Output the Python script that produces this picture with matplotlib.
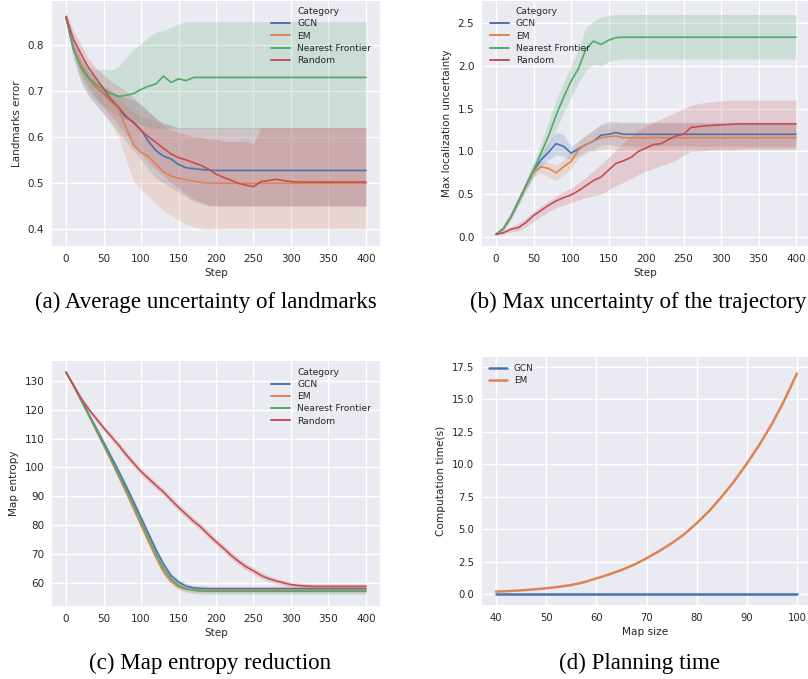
import matplotlib
matplotlib.use("Agg")
import matplotlib.pyplot as plt
from matplotlib.lines import Line2D
import numpy as np
import seaborn as sns

# ---------------- data ----------------
steps = list(range(0, 401, 10))
categories = ["GCN", "EM", "Nearest Frontier", "Random"]

# (a) Landmarks error
A_GCN = [0.86,0.79,0.755,0.728,0.708,0.694,0.678,0.66,0.643,0.632,0.615,0.59,0.57,0.558,0.552,0.54,0.533,0.531,0.529,0.528] + [0.527]*21
A_EM = [0.86,0.79,0.755,0.728,0.708,0.692,0.675,0.66,0.62,0.582,0.566,0.558,0.54,0.524,0.515,0.51,0.507,0.504,0.501,0.50] + [0.499]*21
A_NF = [0.86,0.79,0.75,0.728,0.714,0.703,0.694,0.688,0.69,0.694,0.703,0.71,0.715,0.732,0.718,0.726,0.722,0.729] + [0.729]*23
A_RND = [0.86,0.812,0.78,0.75,0.727,0.705,0.682,0.665,0.645,0.63,0.614,0.6,0.588,0.575,0.563,0.555,0.55,0.544,0.538,0.53,
         0.519,0.512,0.506,0.499,0.495,0.492,0.503,0.505,0.508,0.505,0.503] + [0.502]*10
A_GCN_lo = [0.85,0.77,0.72,0.69,0.67,0.65,0.63,0.61,0.59,0.57,0.55,0.53,0.51,0.50,0.49,0.48,0.47,0.46,0.455,0.45] + [0.45]*21
A_GCN_hi = [0.87,0.81,0.77,0.74,0.72,0.71,0.70,0.69,0.685,0.68,0.67,0.655,0.64,0.63,0.625,0.62] + [0.62]*25
A_EM_lo = [0.85,0.77,0.72,0.69,0.67,0.65,0.63,0.60,0.55,0.505,0.485,0.47,0.455,0.44,0.43,0.42,0.412,0.405,0.40,0.398] + [0.40]*21
A_EM_hi = [0.87,0.81,0.77,0.745,0.725,0.71,0.70,0.69,0.67,0.655,0.645,0.64,0.635,0.63,0.625,0.62] + [0.62]*25
A_NF_lo = [0.85,0.78,0.73,0.70,0.68,0.665,0.655,0.645,0.638,0.632,0.627,0.622,0.618] + [0.618]*28
A_NF_hi = [0.87,0.80,0.77,0.755,0.745,0.748,0.745,0.752,0.773,0.791,0.802,0.817,0.827,0.831,0.838,0.845] + [0.85]*25
A_RND_lo = [0.85,0.79,0.74,0.71,0.685,0.665,0.645,0.625,0.605,0.585,0.565,0.545,0.53,0.515,0.50,0.49,0.475,0.465,0.458,0.452] + [0.45]*21
A_RND_hi = [0.87,0.83,0.80,0.77,0.75,0.735,0.72,0.71,0.70,0.685,0.67,0.655,0.64,0.625,0.615,0.61,0.605,0.60,0.60,0.595,
            0.595,0.59,0.59,0.59,0.59,0.585] + [0.62]*15

# (b) Max localization uncertainty
B_GCN = [0.03,0.1,0.24,0.42,0.6,0.78,0.9,0.99,1.09,1.06,0.98,1.03,1.08,1.12,1.19,1.2,1.22,1.2] + [1.2]*23
B_EM = [0.03,0.1,0.24,0.42,0.6,0.76,0.82,0.8,0.75,0.82,0.88,1.02,1.08,1.12,1.16,1.17,1.18] + [1.16]*24
B_NF = [0.03,0.1,0.24,0.42,0.6,0.78,0.98,1.18,1.42,1.63,1.82,1.97,2.2,2.29,2.25,2.3,2.33] + [2.335]*24
B_RND = [0.03,0.05,0.09,0.11,0.17,0.25,0.31,0.37,0.42,0.46,0.49,0.54,0.6,0.66,0.7,0.78,0.86,0.89,0.93,1.0,
         1.04,1.08,1.09,1.14,1.18,1.2,1.28,1.29,1.3,1.305,1.31,1.315,1.32] + [1.322]*8
B_GCN_lo = [0.02,0.08,0.21,0.38,0.55,0.72,0.82,0.9,0.96,0.94,0.9,0.95,1.0,1.02,1.07,1.08] + [1.06]*25
B_GCN_hi = [0.04,0.12,0.27,0.46,0.65,0.84,0.98,1.1,1.22,1.2,1.06,1.12,1.18,1.25,1.32,1.35,1.35] + [1.34]*24
B_EM_lo = [0.02,0.08,0.21,0.38,0.55,0.7,0.75,0.7,0.66,0.72,0.8,0.92,0.98,1.0,1.02,1.03] + [1.02]*25
B_EM_hi = [0.04,0.12,0.27,0.46,0.65,0.8,0.88,0.87,0.84,0.9,0.98,1.12,1.2,1.25,1.3,1.32] + [1.33]*25
B_NF_lo = [0.02,0.08,0.21,0.38,0.55,0.7,0.88,1.05,1.25,1.45,1.63,1.8,1.95,2.02,2.0,2.05,2.07] + [2.08]*24
B_NF_hi = [0.04,0.12,0.27,0.46,0.66,0.87,1.1,1.35,1.6,1.8,2.0,2.2,2.45,2.52,2.57,2.59] + [2.6]*25
B_RND_lo = [0.02,0.03,0.06,0.07,0.12,0.18,0.24,0.3,0.34,0.37,0.4,0.43,0.46,0.48,0.5,0.55,0.6,0.64,0.68,0.73,
            0.77,0.8,0.83,0.86,0.9,0.95,1.0,1.0,1.01,1.02,1.02,1.02,1.02] + [1.03]*8
B_RND_hi = [0.04,0.07,0.12,0.16,0.22,0.3,0.36,0.42,0.48,0.53,0.57,0.63,0.7,0.77,0.85,0.93,1.02,1.1,1.18,1.25,
            1.3,1.34,1.38,1.42,1.46,1.5,1.54,1.56,1.57,1.58,1.59] + [1.6]*10

# (c) Map entropy
C_GCN = [133,128.5,123.6,118.7,113.8,108.8,103.8,98.8,93.6,88.2,82.6,77.0,71.5,66.5,62.5,60.3,58.9,58.3,58.1] + [58.0]*22
C_EM = [133,128.3,123.2,118.1,112.9,107.7,102.4,97.0,91.5,85.8,80.0,74.3,68.8,63.8,60.5,58.6,57.8,57.6] + [57.5]*23
C_NF = [133,128.4,123.4,118.4,113.3,108.2,103.0,97.8,92.5,86.9,81.2,75.6,70.0,65.0,61.3,59.2,58.0,57.4,57.2] + [57.1]*22
C_RND = [133,128.5,124.0,120.3,117.0,113.8,110.8,107.8,104.5,101.5,98.6,96.2,93.8,91.5,88.8,86.2,83.8,81.4,79.3,76.7,
         74.3,72.0,69.6,67.5,65.6,64.2,62.6,61.5,60.7,60.0,59.4,59.1,58.9] + [58.8]*8
C_HW_GCN = [0.3,0.4,0.5,0.6,0.7,0.8,0.9,1.0,1.0,1.0,1.0,1.0,1.0,1.0,1.0,1.0,0.9] + [0.9]*24
C_HW_EM = [0.3,0.4,0.5,0.6,0.7,0.8,0.9,1.0,1.0,1.0,1.0,1.0,1.0,1.0,1.0,1.0,0.9] + [0.9]*24
C_HW_NF = [0.3,0.4,0.5,0.6,0.7,0.8,0.9,1.0,1.0,1.0,1.0,1.0,1.0,1.0,1.0,1.1,1.1] + [1.1]*24
C_HW_RND = [0.3,0.6,0.8,0.9,1.0,1.0,1.1,1.1,1.2,1.2,1.2,1.2,1.2,1.2,1.2,1.2,1.2,1.2,1.2,1.2,
            1.2,1.2,1.2,1.2,1.2,1.2,1.1,1.0,1.0,0.9,0.9,0.9,0.9] + [0.9]*8

# (d) Planning time
map_size = [40,42.5,45,47.5,50,52.5,55,57.5,60,62.5,65,67.5,70,72.5,75,77.5,80,82.5,85,87.5,90,92.5,95,97.5,100]
D_GCN = [0.02]*25
D_EM = [0.18,0.22,0.28,0.35,0.44,0.55,0.69,0.9,1.2,1.5,1.85,2.25,2.75,3.3,3.9,4.6,5.45,6.4,7.5,8.7,10.05,11.5,13.1,14.95,17.0]

# ---------------- style ----------------
sns.set_style("darkgrid")
plt.rcParams["font.family"] = ["DejaVu Sans"]
plt.rcParams["text.color"] = ".15"
plt.rcParams["axes.labelcolor"] = ".15"
plt.rcParams["xtick.color"] = ".15"
plt.rcParams["ytick.color"] = ".15"
plt.rcParams["grid.linewidth"] = 1.0

pal = sns.color_palette("deep")
colors = [pal[0], pal[1], pal[2], pal[3]]

W, H = 808, 679
fig = plt.figure(figsize=(W / 100, H / 100), dpi=100)

def add_ax(l, r, t, b):
    return fig.add_axes([l / W, 1 - b / H, (r - l) / W, (b - t) / H])

axA = add_ax(52, 380, 1, 246)
axB = add_ax(482, 808, 1, 246)
axC = add_ax(52, 380, 361, 606)
axD = add_ax(482, 808, 357, 605)

TICK = 7.5
LAB = 7.5

def style(ax, tick=TICK):
    ax.tick_params(labelsize=tick, length=0, pad=5.5)
    for s in ax.spines.values():
        s.set_visible(False)

def cat_legend(ax, x, y, fs=6.6):
    hs = [Line2D([], [], color="none")] + [Line2D([], [], color=c, lw=1.4) for c in colors]
    ls = ["Category"] + categories
    ax.legend(hs, ls, loc="upper left", bbox_to_anchor=(x, y), frameon=False,
              fontsize=fs, borderpad=0, borderaxespad=0, handlelength=2.07,
              handletextpad=0.76, labelspacing=0.35)

# (a)
for m, lo, hi, c in zip([A_GCN, A_EM, A_NF, A_RND],
                        [A_GCN_lo, A_EM_lo, A_NF_lo, A_RND_lo],
                        [A_GCN_hi, A_EM_hi, A_NF_hi, A_RND_hi], colors):
    axA.fill_between(steps, lo, hi, color=c, alpha=0.2, lw=0)
    axA.plot(steps, m, color=c, lw=1.2)
axA.set_xlim(-18.7, 418.7)
axA.set_ylim(0.363, 0.895)
axA.set_xticks(range(0, 401, 50))
axA.set_yticks([0.4, 0.5, 0.6, 0.7, 0.8])
axA.set_xlabel("Step", fontsize=LAB, labelpad=3)
axA.set_ylabel("Landmarks error", fontsize=LAB)
style(axA)
cat_legend(axA, 0.668, 0.975)

# (b)
for m, lo, hi, c in zip([B_GCN, B_EM, B_NF, B_RND],
                        [B_GCN_lo, B_EM_lo, B_NF_lo, B_RND_lo],
                        [B_GCN_hi, B_EM_hi, B_NF_hi, B_RND_hi], colors):
    axB.fill_between(steps, lo, hi, color=c, alpha=0.2, lw=0)
    axB.plot(steps, m, color=c, lw=1.2)
axB.set_xlim(-18.7, 416)
axB.set_ylim(-0.106, 2.758)
axB.set_xticks(range(0, 401, 50))
axB.set_yticks([0.0, 0.5, 1.0, 1.5, 2.0, 2.5])
axB.set_xlabel("Step", fontsize=LAB, labelpad=3)
axB.set_ylabel("Max localization uncertainty", fontsize=LAB)
style(axB)
cat_legend(axB, 0.0245, 0.975)

# (c)
for m, hw, c in zip([C_GCN, C_EM, C_NF, C_RND],
                    [C_HW_GCN, C_HW_EM, C_HW_NF, C_HW_RND], colors):
    m = np.array(m, dtype=float)
    hw = np.array(hw, dtype=float)
    axC.fill_between(steps, m - hw, m + hw, color=c, alpha=0.2, lw=0)
    axC.plot(steps, m, color=c, lw=1.2)
axC.set_xlim(-18.7, 418.7)
axC.set_ylim(52.0, 136.9)
axC.set_xticks(range(0, 401, 50))
axC.set_yticks(range(60, 131, 10))
axC.set_xlabel("Step", fontsize=LAB, labelpad=3)
axC.set_ylabel("Map entropy", fontsize=LAB)
style(axC)
cat_legend(axC, 0.668, 0.972)

# (d)
axD.plot(map_size, D_GCN, color=pal[0], lw=1.8, label="GCN")
axD.plot(map_size, D_EM, color=pal[1], lw=1.8, label="EM")
axD.set_xlim(37.2, 102.2)
axD.set_ylim(-0.85, 18.27)
axD.set_xticks(range(40, 101, 10))
axD.set_yticks([0.0, 2.5, 5.0, 7.5, 10.0, 12.5, 15.0, 17.5])
axD.set_xlabel("Map size", fontsize=7.6, labelpad=3)
axD.set_ylabel("Computation time(s)", fontsize=7.6)
style(axD, tick=7.2)
axD.legend(loc="upper left", bbox_to_anchor=(0.0215, 0.972), frameon=False, fontsize=6.4,
           borderpad=0, borderaxespad=0, handlelength=2.0, handletextpad=0.8, labelspacing=0.4)

# captions
cap = dict(fontsize=16.6, family="Liberation Serif", color="black", ha="center", va="center")
fig.text(206 / W, 1 - 302 / H, "(a) Average uncertainty of landmarks", **cap)
fig.text(638 / W, 1 - 302 / H, "(b) Max uncertainty of the trajectory", **cap)
fig.text(210 / W, 1 - 663 / H, "(c) Map entropy reduction", **cap)
fig.text(640 / W, 1 - 663 / H, "(d) Planning time", **cap)

fig.savefig("out.png", dpi=100)
